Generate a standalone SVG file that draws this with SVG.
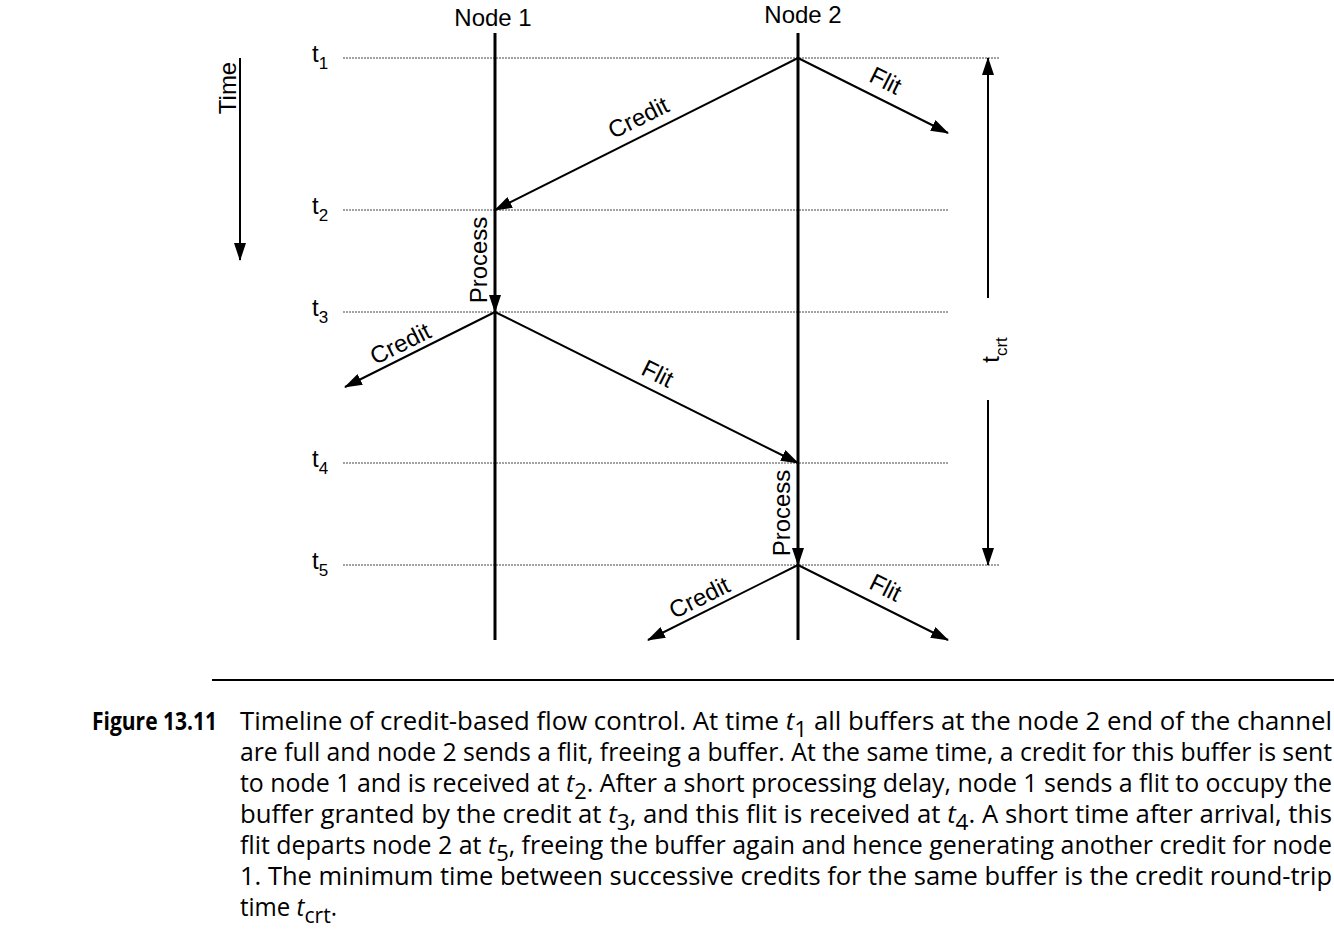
<svg xmlns="http://www.w3.org/2000/svg" width="1334" height="946" viewBox="0 0 1334 946">
<style>
.lbl{font-family:"Liberation Sans",Arial,sans-serif;font-size:24px;fill:#000}
.sub{font-size:17px}
.node{stroke:#000;stroke-width:3;fill:none}
.dot{stroke:#444;stroke-width:1;stroke-dasharray:2 1;fill:none}
.arr{stroke:#000;stroke-width:2;fill:none;marker-end:url(#ah)}
.cap{font-family:"Open Sans","Noto Sans",sans-serif;font-size:25px;fill:#000}
.capb{font-family:"Open Sans","Noto Sans",sans-serif;font-size:25px;font-weight:bold;fill:#000}
.it{font-style:italic}
</style>
<defs>
<marker id="ah" markerUnits="userSpaceOnUse" markerWidth="18" markerHeight="12" refX="17" refY="6" orient="auto">
<path d="M0,0 L18,6 L0,12 z" fill="#000"/>
</marker>
</defs>
<rect width="1334" height="946" fill="#fff"/>

<g id="timelines">
<line class="dot" x1="343" y1="58" x2="1000" y2="58"/>
<line class="dot" x1="343" y1="210" x2="948" y2="210"/>
<line class="dot" x1="343" y1="312" x2="948" y2="312"/>
<line class="dot" x1="343" y1="463" x2="948" y2="463"/>
<line class="dot" x1="343" y1="565" x2="1000" y2="565"/>
<text class="lbl" x="312" y="62">t<tspan class="sub" dy="7">1</tspan></text>
<text class="lbl" x="312" y="214">t<tspan class="sub" dy="7">2</tspan></text>
<text class="lbl" x="312" y="316">t<tspan class="sub" dy="7">3</tspan></text>
<text class="lbl" x="312" y="467">t<tspan class="sub" dy="7">4</tspan></text>
<text class="lbl" x="312" y="569">t<tspan class="sub" dy="7">5</tspan></text>
</g>

<g id="node1">
<line class="node" x1="495" y1="33" x2="495" y2="640"/>
<text class="lbl" x="493" y="26" text-anchor="middle">Node 1</text>
</g>
<g id="node2">
<line class="node" x1="798" y1="33" x2="798" y2="640"/>
<text class="lbl" x="803" y="23" text-anchor="middle">Node 2</text>
</g>

<g id="time-axis">
<line class="arr" x1="240" y1="58" x2="240" y2="260"/>
<text class="lbl" transform="translate(236,88) rotate(-90)" text-anchor="middle">Time</text>
</g>

<g id="connectors">
<line class="arr" x1="798" y1="58" x2="495" y2="210"/>
<line class="arr" x1="798" y1="58" x2="948" y2="133"/>
<line class="arr" x1="495" y1="210" x2="495" y2="312"/>
<line class="arr" x1="495" y1="312" x2="345" y2="387"/>
<line class="arr" x1="495" y1="312" x2="798" y2="463"/>
<line class="arr" x1="798" y1="463" x2="798" y2="565"/>
<line class="arr" x1="798" y1="565" x2="648" y2="640"/>
<line class="arr" x1="798" y1="565" x2="948" y2="640"/>
<line x1="988" y1="298" x2="988" y2="58" stroke="#000" stroke-width="2" marker-end="url(#ah)"/>
<line x1="988" y1="400" x2="988" y2="565" stroke="#000" stroke-width="2" marker-end="url(#ah)"/>
</g>

<g id="labels">
<text class="lbl" transform="translate(642,125) rotate(-26.6)" text-anchor="middle">Credit</text>
<text class="lbl" transform="translate(882,88) rotate(26.6)" text-anchor="middle">Flit</text>
<text class="lbl" transform="translate(487,260) rotate(-90)" text-anchor="middle">Process</text>
<text class="lbl" transform="translate(404,351) rotate(-26.6)" text-anchor="middle">Credit</text>
<text class="lbl" transform="translate(654,381) rotate(26.6)" text-anchor="middle">Flit</text>
<text class="lbl" transform="translate(790,513) rotate(-90)" text-anchor="middle">Process</text>
<text class="lbl" transform="translate(703,605) rotate(-26.6)" text-anchor="middle">Credit</text>
<text class="lbl" transform="translate(882,595) rotate(26.6)" text-anchor="middle">Flit</text>
<text class="lbl" transform="translate(999,350) rotate(-90)" text-anchor="middle">t<tspan class="sub" dy="8">crt</tspan></text>
</g>

<g id="caption">
<line x1="212" y1="680" x2="1334" y2="680" stroke="#000" stroke-width="2"/>
<text class="capb" x="92" y="730" textLength="125" lengthAdjust="spacingAndGlyphs">Figure 13.11</text>
<text class="cap" x="240" y="730" textLength="1092" lengthAdjust="spacingAndGlyphs">Timeline of credit-based flow control. At time <tspan class="it">t</tspan><tspan dy="7" font-size="22">1</tspan><tspan dy="-7"> all buffers at the node 2 end of the channel</tspan></text>
<text class="cap" x="240" y="761" textLength="1092" lengthAdjust="spacingAndGlyphs">are full and node 2 sends a flit, freeing a buffer. At the same time, a credit for this buffer is sent</text>
<text class="cap" x="240" y="792" textLength="1092" lengthAdjust="spacingAndGlyphs">to node 1 and is received at <tspan class="it">t</tspan><tspan dy="7" font-size="22">2</tspan><tspan dy="-7">. After a short processing delay, node 1 sends a flit to occupy the</tspan></text>
<text class="cap" x="240" y="823" textLength="1092" lengthAdjust="spacingAndGlyphs">buffer granted by the credit at <tspan class="it">t</tspan><tspan dy="7" font-size="22">3</tspan><tspan dy="-7">, and this flit is received at </tspan><tspan class="it">t</tspan><tspan dy="7" font-size="22">4</tspan><tspan dy="-7">. A short time after arrival, this</tspan></text>
<text class="cap" x="240" y="854" textLength="1092" lengthAdjust="spacingAndGlyphs">flit departs node 2 at <tspan class="it">t</tspan><tspan dy="7" font-size="22">5</tspan><tspan dy="-7">, freeing the buffer again and hence generating another credit for node</tspan></text>
<text class="cap" x="240" y="885" textLength="1092" lengthAdjust="spacingAndGlyphs">1. The minimum time between successive credits for the same buffer is the credit round-trip</text>
<text class="cap" x="240" y="916" transform="translate(240,0) scale(0.96,1) translate(-240,0)">time <tspan class="it">t</tspan><tspan dy="7" font-size="22">crt</tspan><tspan dy="-7">.</tspan></text>
</g>
</svg>
